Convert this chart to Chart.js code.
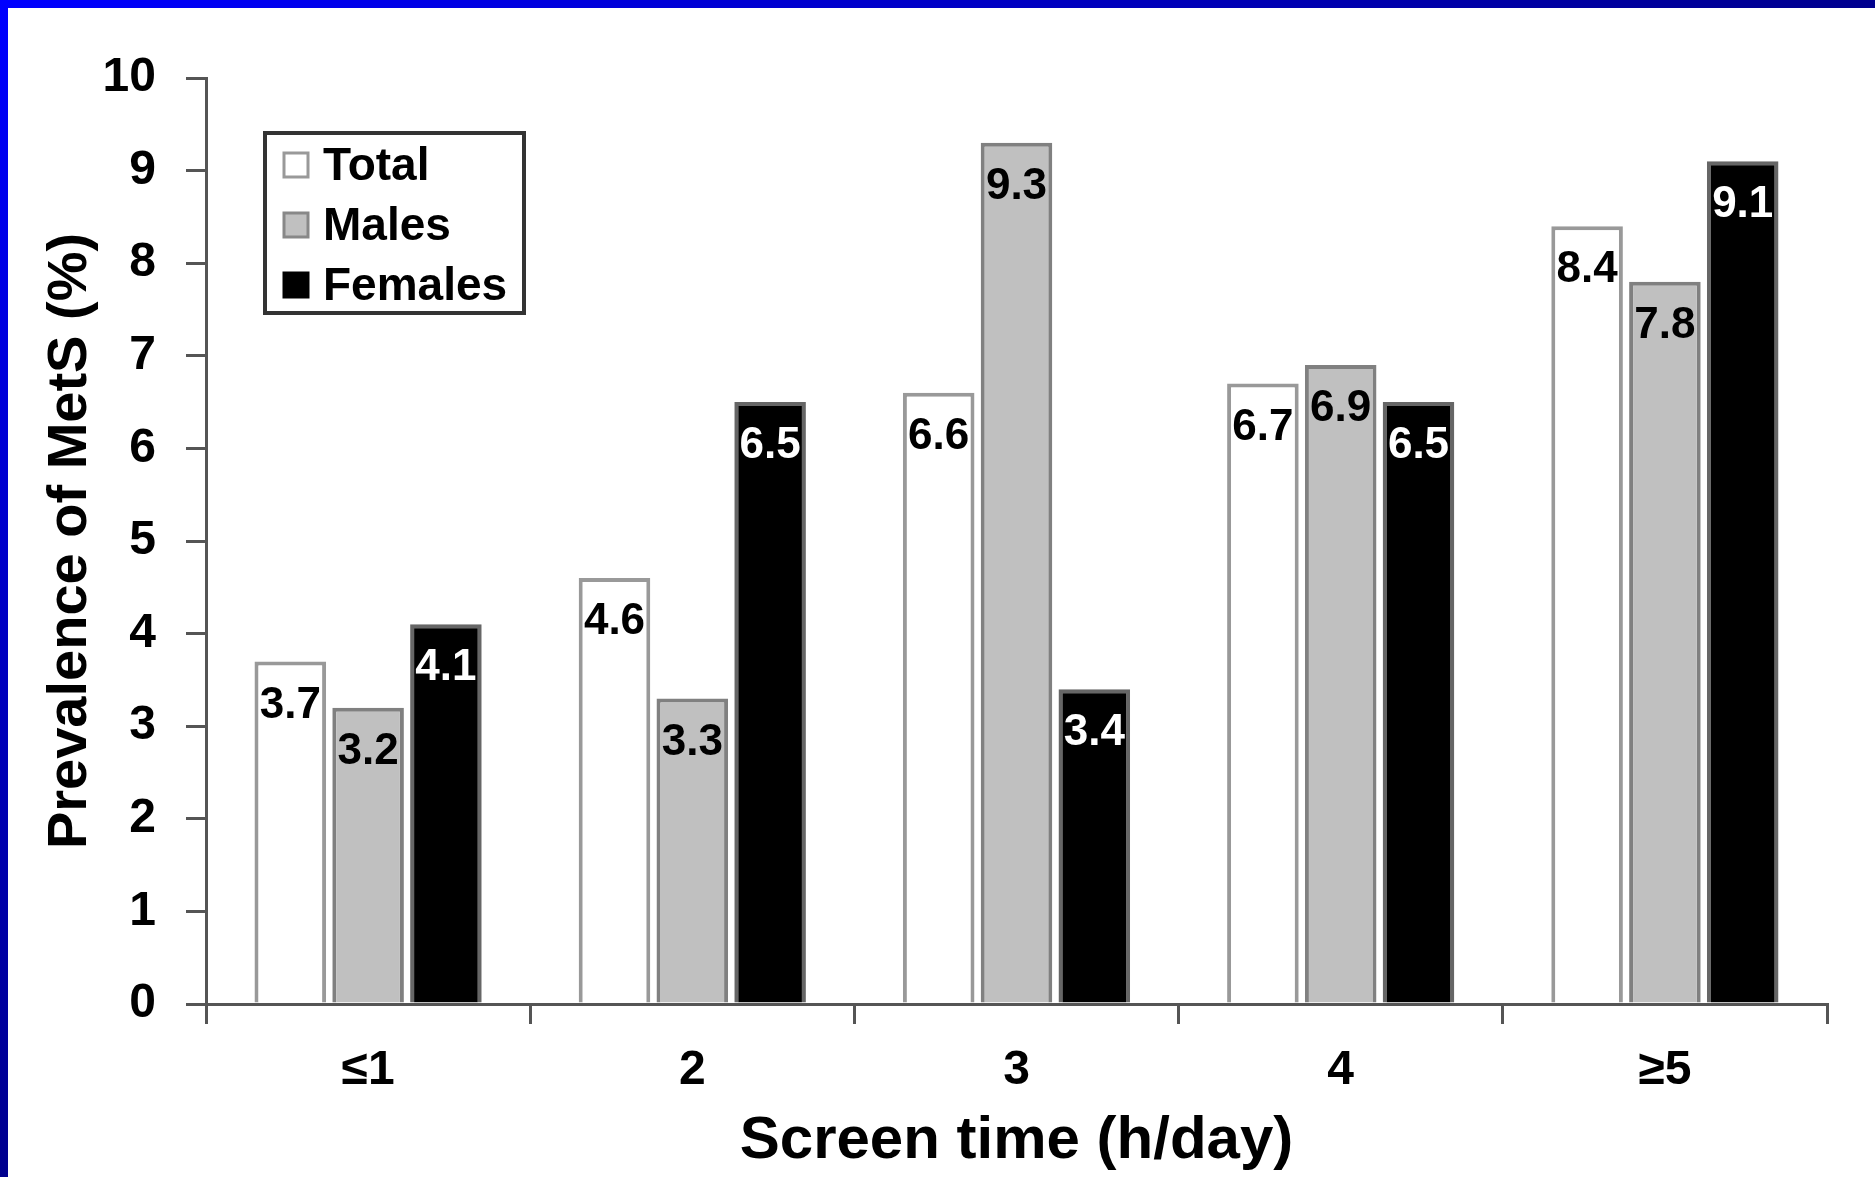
<!DOCTYPE html>
<html>
<head>
<meta charset="utf-8">
<script src="https://cdn.jsdelivr.net/npm/chart.js@4.4.1/dist/chart.umd.min.js"></script>
<style>
    html, body { margin: 0; padding: 0; background: #fff; }
    #wrap { position: relative; width: 1875px; height: 1177px; overflow: hidden; }
    #frameTop { position: absolute; left: 0; top: 0; width: 1875px; height: 8px;
        background: linear-gradient(to right, #0000ff, #00008e); }
    #frameLeft { position: absolute; left: 0; top: 0; width: 8px; height: 1177px;
        background: linear-gradient(to bottom, #0000ff, #00008e); }
</style>
</head>
<body>
<div id="wrap">
    <canvas id="metsChart" width="1875" height="1177"></canvas>
    <div id="frameTop"></div>
    <div id="frameLeft"></div>
</div>
<script>
// veriler
const categories = ['≤1', '2', '3', '4', '≥5'];
const totalVals = [3.7, 4.6, 6.6, 6.7, 8.4];
const maleVals = [3.2, 3.3, 9.3, 6.9, 7.8];
const femaleVals = [4.1, 6.5, 3.4, 6.5, 9.1];
const yTicks = [0, 1, 2, 3, 4, 5, 6, 7, 8, 9, 10];

const FONT = '"Liberation Sans", Arial, sans-serif';
const AXIS = '#555555';

// bar üstündeki değerler (bar içinde, üst kısımda)
const barValuePlugin = {
    id: 'barValuePlugin',
    afterDatasetsDraw(chart) {
        const { ctx } = chart;
        chart.data.datasets.forEach((dataset, i) => {
            const meta = chart.getDatasetMeta(i);
            meta.data.forEach((bar, index) => {
                ctx.save();
                ctx.fillStyle = i === 2 ? '#ffffff' : '#000000';
                ctx.font = 'bold 44px ' + FONT;
                ctx.textAlign = 'center';
                ctx.textBaseline = 'middle';
                ctx.fillText(dataset.data[index].toFixed(1), bar.x, bar.y + 44);
                ctx.restore();
            });
        });
    }
};

// kutulu legend, grafik alanının içinde
const boxLegendPlugin = {
    id: 'boxLegendPlugin',
    afterDraw(chart) {
        const { ctx } = chart;
        const x = 265, y = 133, w = 259, h = 180;
        ctx.save();
        ctx.fillStyle = '#ffffff';
        ctx.fillRect(x, y, w, h);
        ctx.strokeStyle = '#333333';
        ctx.lineWidth = 4;
        ctx.strokeRect(x, y, w, h);
        chart.data.datasets.forEach((ds, i) => {
            const cy = 165 + i * 60;
            ctx.fillStyle = ds.backgroundColor;
            ctx.fillRect(284, cy - 12, 24, 24);
            ctx.strokeStyle = ds.legendBorder;
            ctx.lineWidth = 3;
            ctx.strokeRect(284, cy - 12, 24, 24);
            ctx.fillStyle = '#000000';
            ctx.font = 'bold 46px ' + FONT;
            ctx.textAlign = 'left';
            ctx.textBaseline = 'middle';
            ctx.fillText(ds.label, 323, cy + 2);
        });
        ctx.restore();
    }
};

const ctx = document.getElementById('metsChart').getContext('2d');
new Chart(ctx, {
    type: 'bar',
    data: {
        labels: categories,
        datasets: [
            { label: 'Total', data: totalVals, backgroundColor: '#ffffff', borderColor: '#999999', legendBorder: '#999999', borderWidth: 4 },
            { label: 'Males', data: maleVals, backgroundColor: '#c0c0c0', borderColor: '#808080', legendBorder: '#888888', borderWidth: 4 },
            { label: 'Females', data: femaleVals, backgroundColor: '#000000', borderColor: '#666666', legendBorder: '#000000', borderWidth: 4 }
        ]
    },
    plugins: [barValuePlugin, boxLegendPlugin],
    options: {
        responsive: false,
        animation: false,
        layout: { padding: { top: 78, right: 48, left: 0, bottom: 0 } },
        datasets: {
            bar: { categoryPercentage: 0.72, barPercentage: 0.92 }
        },
        plugins: {
            legend: { display: false },
            tooltip: { enabled: false }
        },
        scales: {
            x: {
                afterFit: (scale) => { scale.height = 173; },
                grid: { offset: true, drawOnChartArea: false, drawTicks: true, tickLength: 20, color: AXIS, lineWidth: 3 },
                border: { display: true, color: AXIS, width: 3 },
                ticks: { color: '#000', padding: 18, font: { family: FONT, size: 48, weight: 'bold' } },
                title: {
                    display: true,
                    text: 'Screen time (h/day)',
                    color: '#000',
                    font: { family: FONT, size: 60, weight: 'bold' },
                    padding: { top: 6, bottom: 0 }
                }
            },
            y: {
                min: 0,
                max: 10,
                afterFit: (scale) => { scale.width = 206; },
                afterBuildTicks: (scale) => { scale.ticks = yTicks.map(v => ({ value: v })); },
                grid: { drawOnChartArea: false, drawTicks: true, tickLength: 20, color: AXIS, lineWidth: 3 },
                border: { display: true, color: AXIS, width: 3 },
                ticks: { color: '#000', padding: 30, font: { family: FONT, size: 48, weight: 'bold' } },
                title: {
                    display: true,
                    text: 'Prevalence of MetS (%)',
                    color: '#000',
                    font: { family: FONT, size: 56, weight: 'bold' },
                    padding: { top: 37, bottom: 0 }
                }
            }
        }
    }
});
</script>
</body>
</html>
